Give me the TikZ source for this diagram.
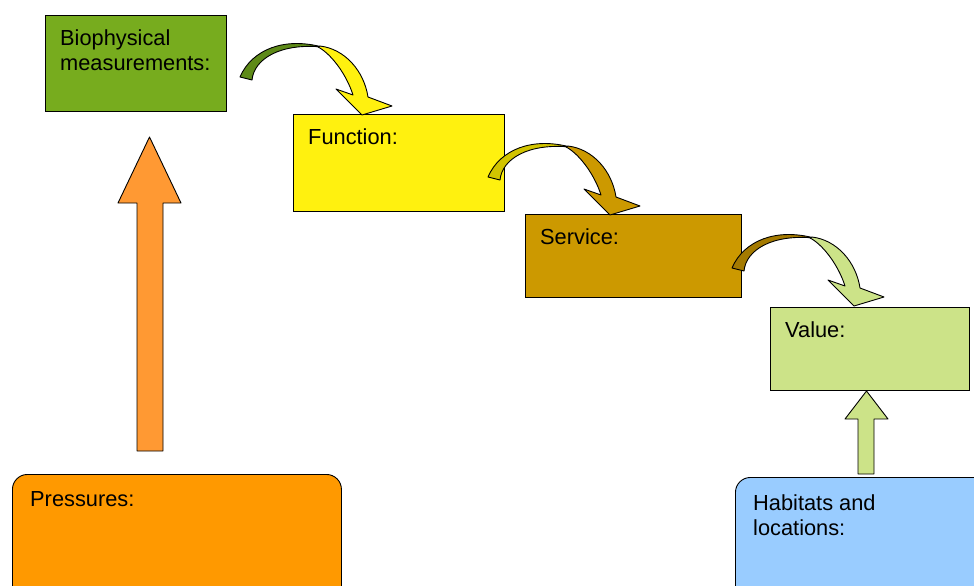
\documentclass[tikz,border=0pt]{standalone}
\usepackage{fontspec}
\setmainfont{Liberation Sans}
\usepackage{tikz}
\usetikzlibrary{positioning}

\definecolor{biogreen}{HTML}{77AC1E}
\definecolor{funcyellow}{HTML}{FFF10F}
\definecolor{servgold}{HTML}{CC9900}
\definecolor{valgreen}{HTML}{CCE388}
\definecolor{pressorange}{HTML}{FF9900}
\definecolor{habblue}{HTML}{99CCFF}
\definecolor{uporange}{HTML}{FF9933}
\definecolor{backgreen}{HTML}{5E8A18}
\definecolor{backolive}{HTML}{D2C400}
\definecolor{backgold}{HTML}{A47A00}

\tikzset{
  box/.style={draw=black, line width=0.9pt, inner sep=0pt, anchor=north west},
  rbox/.style={box, rounded corners=15pt},
  lbl/.style={inner sep=0pt, align=left, font=\fontsize{21.8}{25}\selectfont},
  shape line/.style={draw=black, line width=0.9pt, line join=round},
}

% curved ribbon arrow: #1 tail corner, #2 back colour, #3 front colour
\newcommand{\bendarrow}[3]{%
  \begin{scope}[shift={#1}]
    \filldraw[shape line, fill=#2] (0,0) .. controls (12,-28) and (45,-40) .. (82,-30)
      .. controls (40,-34) and (14,-18) .. (12,3) -- cycle;
    \filldraw[shape line, fill=#3] (80,-31) .. controls (105,-28) and (124,-6) .. (128,20)
      -- (152,29) -- (122,38) -- (96,12) -- (113,18)
      .. controls (106,-4) and (90,-24) .. (78,-30) -- cycle;
  \end{scope}}

\begin{document}
\begin{tikzpicture}[x=1pt, y=-1pt]
    \clip (0,0) rectangle (974,586);

    % Boxes
    \node[box, fill=biogreen, minimum width=181pt, minimum height=96pt] (bio) at (45,15) {};
    \node[box, fill=funcyellow, minimum width=211pt, minimum height=97pt] (func) at (293,114) {};
    \node[box, fill=servgold, minimum width=216pt, minimum height=83pt] (serv) at (525,214) {};
    \node[box, fill=valgreen, minimum width=199pt, minimum height=83pt] (val) at (770,307) {};
    \node[rbox, fill=pressorange, minimum width=329pt, minimum height=140pt] (press) at (12,474) {};
    \node[rbox, fill=habblue, minimum width=260pt, minimum height=140pt] (hab) at (735,477) {};

    % Straight block arrows
    \filldraw[shape line, fill=uporange] (137,451) -- (137,203) -- (118,203) -- (149.5,137)
      -- (181,203) -- (163,203) -- (163,451) -- cycle;
    \filldraw[shape line, fill=valgreen] (858,474) -- (858,419) -- (845,419) -- (866.5,391)
      -- (888,419) -- (874,419) -- (874,474) -- cycle;

    % Curved arrows
    \bendarrow{(240,77)}{backgreen}{funcyellow}
    \bendarrow{(488,177)}{backolive}{servgold}
    \bendarrow{(732,268)}{backgold}{valgreen}

    % Labels
    \node[lbl, below right=14.5pt and 15pt of bio.north west] (biotxt) {Biophysical\\measurements:};
    \node[lbl, below right=14.5pt and 15pt of func.north west] (functxt) {Function:};
    \node[lbl, below right=14.5pt and 15pt of serv.north west] (servtxt) {Service:};
    \node[lbl, below right=14.5pt and 15pt of val.north west] (valtxt) {Value:};
    \node[lbl, below right=17pt and 18pt of press.north west] (presstxt) {Pressures:};
    \node[lbl, below right=17pt and 18pt of hab.north west] (habtxt) {Habitats and\\locations:};
\end{tikzpicture}
\end{document}
